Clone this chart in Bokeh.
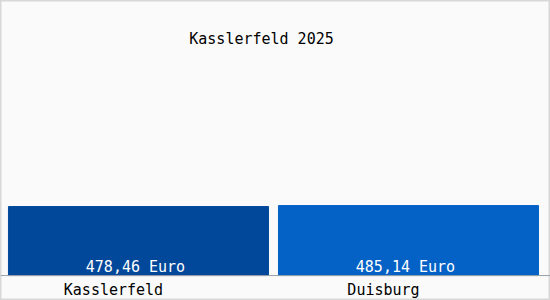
from bokeh.plotting import figure
from bokeh.models import Range1d, Span, Label, ColumnDataSource
from bokeh.core.properties import value
from bokeh.embed import file_html
from bokeh.resources import INLINE

categories = ["Kasslerfeld", "Duisburg"]
values = [478.46, 485.14]
value_labels = ["478,46 Euro", "485,14 Euro"]
colors = ["#02489a", "#0462c6"]
title = "Kasslerfeld 2025"

positions = list(range(len(categories)))
src = ColumnDataSource(dict(x=positions, cat=categories, val=values, lab=value_labels, col=colors))

p = figure(width=550, height=300, x_range=Range1d(-0.511, 1.526),
           y_range=Range1d(-173, 1907), output_backend="svg", toolbar_location=None,
           x_axis_location=None, y_axis_location=None, min_border=0,
           background_fill_color="#fafafa", border_fill_color="#fafafa")
p.grid.visible = False
p.outline_line_color = "#d8d8d8"
p.outline_line_width = 2

p.vbar(x="x", top="val", bottom=0, width=0.963, color="col", source=src)
p.add_layout(Span(location=0, dimension="width", line_color="#9aa0a8", line_width=1))

p.text(x="x", y=0, text="lab", source=src, text_color="white",
       text_font=value("DejaVu Sans Mono"), text_font_size="15px",
       text_align="center", text_baseline="bottom", y_offset=0, x_offset=-3)
p.text(x="x", y=0, text="cat", source=src, text_color="black",
       text_font=value("DejaVu Sans Mono"), text_font_size="15px",
       text_align="center", text_baseline="top", y_offset=5, x_offset=-25)

p.add_layout(Label(x=261, y=262, x_units="screen", y_units="screen", text=title,
                   text_font="DejaVu Sans Mono", text_font_size="15px",
                   text_align="center", text_baseline="middle", text_color="black"))

open("out.html", "w").write(file_html(p, INLINE))
